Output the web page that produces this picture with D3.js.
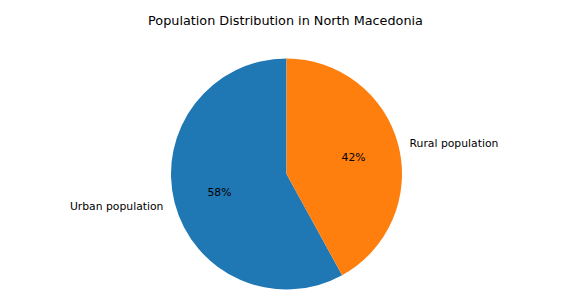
<!DOCTYPE html>
<html>
<head>
<meta charset="utf-8">
<script src="https://cdn.jsdelivr.net/npm/d3@7"></script>
<style>
  body { margin: 0; background: #fff; }
  text { font-family: "DejaVu Sans", sans-serif; fill: #000; }
</style>
</head>
<body>
<div id="chart"></div>
<script>
(function () {

  // data
  const categories = ["Urban population", "Rural population"];
  const shares = [58, 42];
  const colors = ["#1f77b4", "#ff7f0e"];
  const chartTitle = "Population Distribution in North Macedonia";

  // chart settings
  const svg_width = 571;
  const svg_height = 303;
  const cx = 286.5, cy = 174, radius = 115.5;

  const data = categories.map((c, i) => ({ name: c, value: shares[i], color: colors[i] }));

  const svg = d3.select("#chart").append("svg")
    .attr("width", svg_width)
    .attr("height", svg_height);

  // title
  svg.append("text")
    .attr("x", svg_width / 2)
    .attr("y", 25)
    .attr("text-anchor", "middle")
    .style("font-size", "12.8px")
    .text(chartTitle);

  // matplotlib style: start at top, counterclockwise
  const pie = d3.pie()
    .sort(null)
    .value(d => d.value)
    .startAngle(0)
    .endAngle(-2 * Math.PI);

  const arc = d3.arc().innerRadius(0).outerRadius(radius);

  const g = svg.append("g")
    .attr("transform", "translate(" + cx + "," + cy + ")");

  const arcs = pie(data);

  g.selectAll(".slice")
    .data(arcs)
    .enter().append("path")
    .attr("class", "slice")
    .attr("d", arc)
    .attr("fill", d => d.data.color);

  function pos(d, k) {
    const a = (d.startAngle + d.endAngle) / 2;
    return [k * radius * Math.sin(a), -k * radius * Math.cos(a)];
  }

  // category labels
  g.selectAll(".label")
    .data(arcs)
    .enter().append("text")
    .attr("class", "label")
    .attr("x", d => pos(d, 1.1)[0])
    .attr("y", d => pos(d, 1.1)[1])
    .attr("dy", "0.4em")
    .attr("text-anchor", d => pos(d, 1.1)[0] < 0 ? "end" : "start")
    .style("font-size", "10.8px")
    .text(d => d.data.name);

  // percent labels
  g.selectAll(".pct")
    .data(arcs)
    .enter().append("text")
    .attr("class", "pct")
    .attr("x", d => pos(d, 0.6)[0])
    .attr("y", d => pos(d, 0.6)[1])
    .attr("dy", "0.4em")
    .attr("text-anchor", "middle")
    .style("font-size", "10.8px")
    .text(d => d.data.value + "%");

})();
</script>
</body>
</html>
